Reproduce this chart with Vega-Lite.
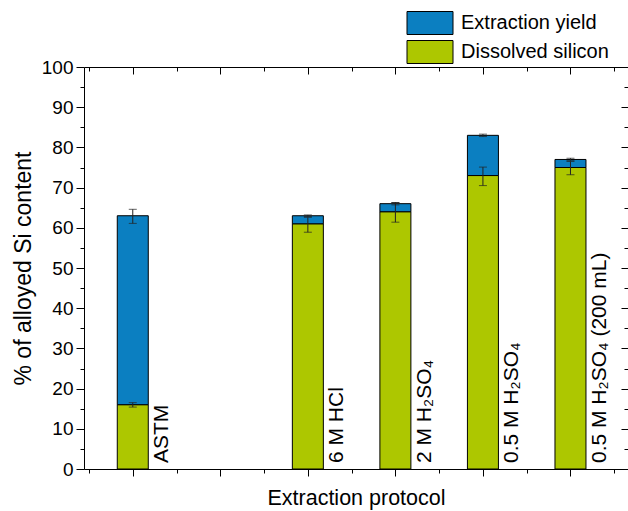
{
  "$schema": "https://vega.github.io/schema/vega-lite/v6.json",
  "width": 544,
  "height": 402,
  "autosize": {"type": "none"},
  "padding": {"left": 84, "top": 67, "right": 0, "bottom": 42},
  "background": "white",
  "config": {
    "view": {"stroke": null},
    "font": "Liberation Sans",
    "axis": {
      "domainColor": "black", "tickColor": "black", "labelColor": "black", "titleColor": "black",
      "labelFont": "Liberation Sans", "titleFont": "Liberation Sans",
      "labelFontSize": 19, "titleFontSize": 21.5, "titleFontWeight": "normal",
      "grid": false, "domainWidth": 1, "tickWidth": 1
    },
    "legend": {"labelFont": "Liberation Sans", "labelFontSize": 20, "labelColor": "black"}
  },
  "data": {
    "values": [
      {"protocol": "ASTM", "pos": 1, "d": 16, "dLo": 15.4, "dHi": 16.5, "t": 63, "tLo": 61.1, "tHi": 64.6},
      {"protocol": "6 M HCl", "pos": 3, "d": 61, "dLo": 58.9, "dHi": 62.6, "t": 63, "tLo": 62.8, "tHi": 63.2},
      {"protocol": "2 M H₂SO₄", "pos": 4, "d": 64, "dLo": 61.4, "dHi": 66.3, "t": 66, "tLo": 65.7, "tHi": 66.3},
      {"protocol": "0.5 M H₂SO₄", "pos": 5, "d": 73, "dLo": 70.5, "dHi": 75.1, "t": 83, "tLo": 82.7, "tHi": 83.3},
      {"protocol": "0.5 M H₂SO₄ (200 mL)", "pos": 6, "d": 75, "dLo": 73.2, "dHi": 76.5, "t": 77, "tLo": 76.7, "tHi": 77.3}
    ]
  },
  "resolve": {
    "scale": {"x": "shared", "y": "shared", "color": "shared"},
    "axis": {"x": "independent", "y": "independent"}
  },
  "layer": [
    {
      "mark": {"type": "bar", "size": 31, "stroke": "black", "strokeWidth": 1},
      "encoding": {
        "x": {"field": "pos", "type": "quantitative",
              "scale": {"domain": [0.5, 6.6], "nice": false, "zero": false},
              "axis": {"orient": "bottom", "values": [1, 2, 3, 4, 5, 6], "labels": false, "tickSize": 7,
                       "title": "Extraction protocol", "titlePadding": 11}},
        "y": {"field": "d", "type": "quantitative",
              "scale": {"domain": [0, 100], "nice": false, "zero": true},
              "axis": {"orient": "left", "values": [0, 10, 20, 30, 40, 50, 60, 70, 80, 90, 100], "tickSize": 8,
                       "labelPadding": 3, "title": "% of alloyed Si content", "titleFontSize": 23, "titlePadding": 6}},
        "color": {"datum": "Dissolved silicon", "type": "nominal",
                  "scale": {"domain": ["Extraction yield", "Dissolved silicon"], "range": ["#0B7FC1", "#ADC700"]},
                  "legend": {"orient": "none", "legendX": 334, "legendY": -56, "title": null,
                             "symbolType": "M-2,-1H2V1H-2Z", "symbolSize": 529,
                             "symbolStrokeColor": "black", "symbolStrokeWidth": 1, "symbolOpacity": 1,
                             "labelOffset": 19, "rowPadding": 1}}
      }
    },
    {
      "mark": {"type": "bar", "size": 31, "stroke": "black", "strokeWidth": 1},
      "encoding": {
        "x": {"field": "pos", "type": "quantitative",
              "scale": {"domain": [0.5, 6.6], "nice": false, "zero": false},
              "axis": {"orient": "bottom", "values": [0.5, 1.5, 2.5, 3.5, 4.5, 5.5, 6.5], "labels": false,
                       "tickSize": 4, "domain": false, "title": null}},
        "y": {"field": "d", "type": "quantitative",
              "scale": {"domain": [0, 100], "nice": false, "zero": true},
              "axis": {"orient": "left", "values": [5, 15, 25, 35, 45, 55, 65, 75, 85, 95], "labels": false,
                       "tickSize": 4, "domain": false, "title": null}},
        "y2": {"field": "t"},
        "color": {"datum": "Extraction yield", "type": "nominal"}
      }
    },
    {
      "mark": {"type": "rule", "color": "#222222", "strokeWidth": 1},
      "encoding": {
        "x": {"field": "pos", "type": "quantitative",
              "scale": {"domain": [0.5, 6.6], "nice": false, "zero": false},
              "axis": {"orient": "top", "values": [1, 2, 3, 4, 5, 6], "labels": false, "tickSize": -7, "title": null}},
        "y": {"field": "dLo", "type": "quantitative",
              "scale": {"domain": [0, 100], "nice": false, "zero": true},
              "axis": {"orient": "right", "values": [0, 10, 20, 30, 40, 50, 60, 70, 80, 90, 100], "labels": false,
                       "tickSize": -7, "title": null}},
        "y2": {"field": "dHi"}
      }
    },
    {
      "mark": {"type": "tick", "orient": "horizontal", "size": 8, "thickness": 1, "color": "#222222"},
      "encoding": {
        "x": {"field": "pos", "type": "quantitative",
              "scale": {"domain": [0.5, 6.6], "nice": false, "zero": false},
              "axis": {"orient": "top", "values": [0.5, 1.5, 2.5, 3.5, 4.5, 5.5, 6.5], "labels": false,
                       "tickSize": -4, "domain": false, "title": null}},
        "y": {"field": "dLo", "type": "quantitative",
              "scale": {"domain": [0, 100], "nice": false, "zero": true},
              "axis": {"orient": "right", "values": [5, 15, 25, 35, 45, 55, 65, 75, 85, 95], "labels": false,
                       "tickSize": -4, "domain": false, "title": null}}
      }
    },
    {
      "mark": {"type": "tick", "orient": "horizontal", "size": 8, "thickness": 1, "color": "#222222"},
      "encoding": {
        "x": {"field": "pos", "type": "quantitative", "scale": {"domain": [0.5, 6.6], "nice": false, "zero": false}, "axis": null},
        "y": {"field": "dHi", "type": "quantitative", "scale": {"domain": [0, 100], "nice": false, "zero": true}, "axis": null}
      }
    },
    {
      "mark": {"type": "rule", "color": "#222222", "strokeWidth": 1},
      "encoding": {
        "x": {"field": "pos", "type": "quantitative", "scale": {"domain": [0.5, 6.6], "nice": false, "zero": false}, "axis": null},
        "y": {"field": "tLo", "type": "quantitative", "scale": {"domain": [0, 100], "nice": false, "zero": true}, "axis": null},
        "y2": {"field": "tHi"}
      }
    },
    {
      "mark": {"type": "tick", "orient": "horizontal", "size": 8, "thickness": 1, "color": "#222222"},
      "encoding": {
        "x": {"field": "pos", "type": "quantitative", "scale": {"domain": [0.5, 6.6], "nice": false, "zero": false}, "axis": null},
        "y": {"field": "tLo", "type": "quantitative", "scale": {"domain": [0, 100], "nice": false, "zero": true}, "axis": null}
      }
    },
    {
      "mark": {"type": "tick", "orient": "horizontal", "size": 8, "thickness": 1, "color": "#222222"},
      "encoding": {
        "x": {"field": "pos", "type": "quantitative", "scale": {"domain": [0.5, 6.6], "nice": false, "zero": false}, "axis": null},
        "y": {"field": "tHi", "type": "quantitative", "scale": {"domain": [0, 100], "nice": false, "zero": true}, "axis": null}
      }
    },
    {
      "mark": {"type": "text", "angle": -90, "align": "left", "baseline": "middle", "dx": 6, "dy": 29.5,
               "font": "Liberation Sans", "fontSize": 21, "color": "black"},
      "encoding": {
        "x": {"field": "pos", "type": "quantitative", "scale": {"domain": [0.5, 6.6], "nice": false, "zero": false}, "axis": null},
        "y": {"datum": 0, "type": "quantitative", "scale": {"domain": [0, 100], "nice": false, "zero": true}, "axis": null},
        "text": {"field": "protocol"}
      }
    }
  ]
}
